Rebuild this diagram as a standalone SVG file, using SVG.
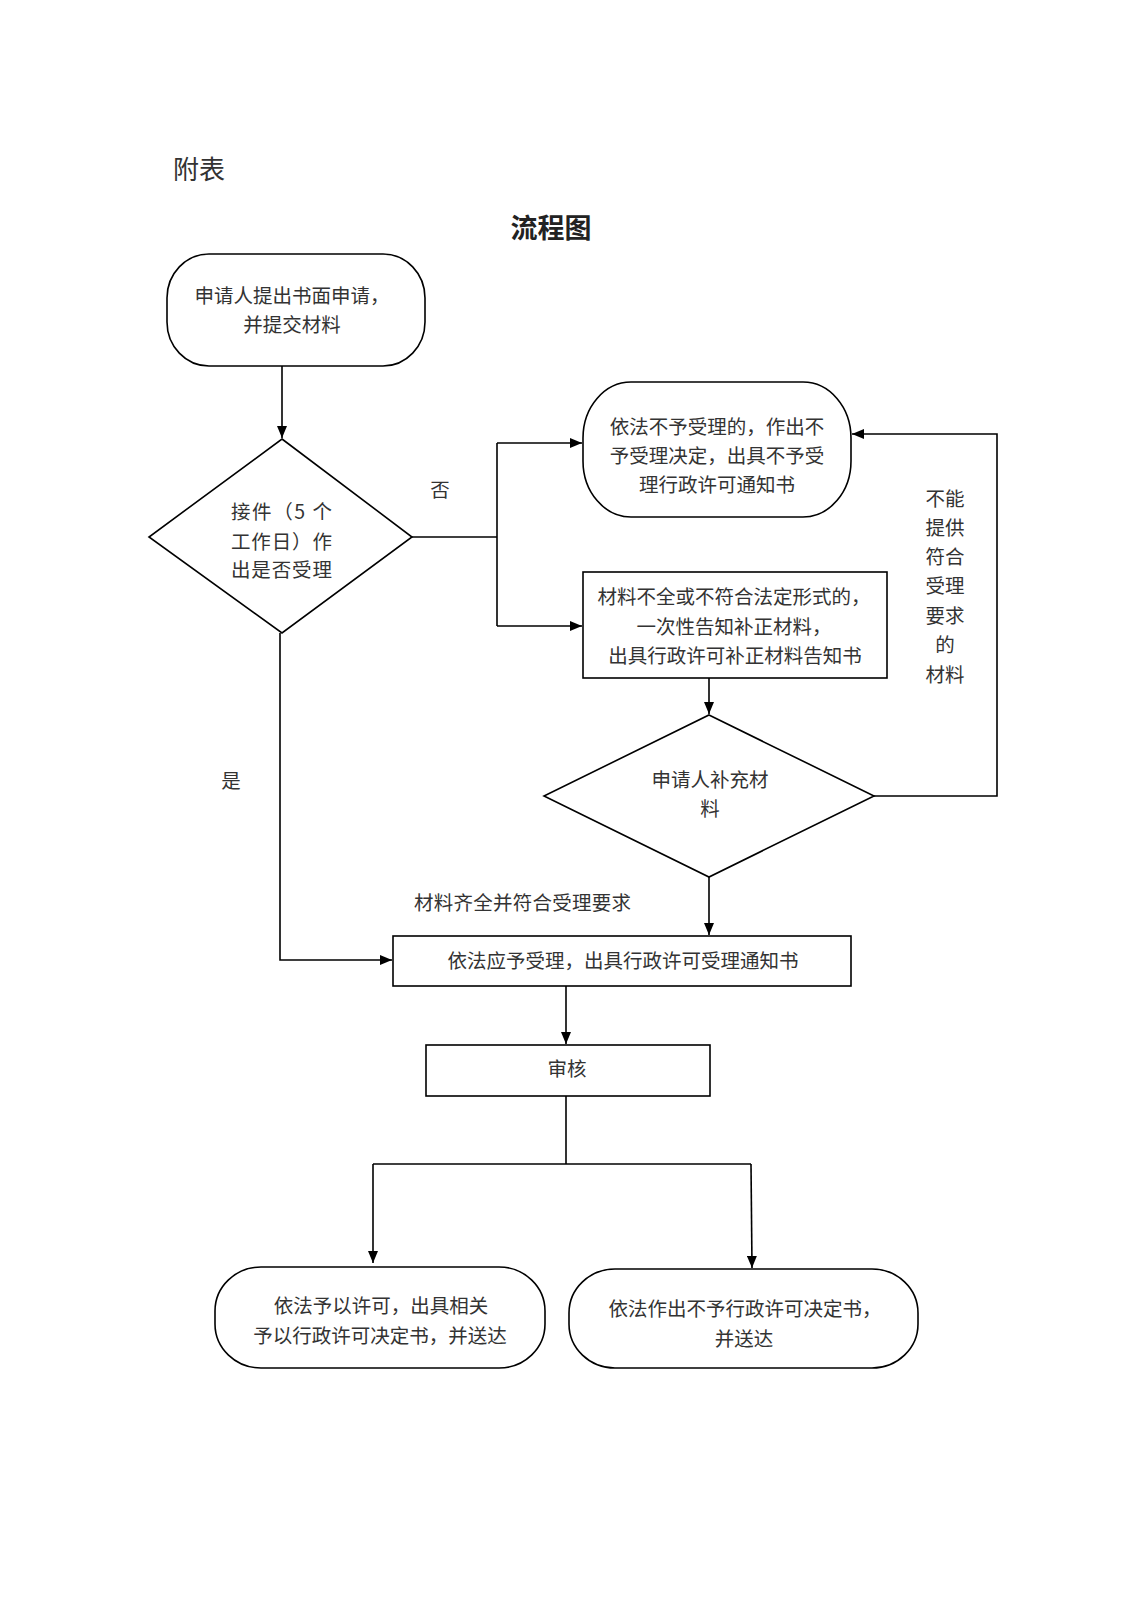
<svg xmlns="http://www.w3.org/2000/svg" width="1131" height="1600" viewBox="0 0 1131 1600">
<style>
  .shape{fill:#ffffff;stroke:#000000;stroke-width:1.6}
  .line{fill:none;stroke:#000000;stroke-width:1.6}
  text{font-family:"Noto Sans CJK SC","Noto Sans",sans-serif;fill:#333333;font-size:19.5px;dominant-baseline:central}
  .c{text-anchor:middle}
  .title{font-size:27px;font-weight:bold;fill:#222222}
  .head{font-size:26px;fill:#333333}
</style>
<defs>
  <marker id="arrow" markerUnits="userSpaceOnUse" markerWidth="12" markerHeight="10" refX="12" refY="5" orient="auto">
    <path d="M0,0 L12,5 L0,10 Z" fill="#000000"/>
  </marker>
</defs>
<rect width="1131" height="1600" fill="#ffffff"/>

<text class="head" x="173" y="167">附表</text>
<text class="title c" x="551" y="226">流程图</text>

<g id="connectors">
  <line class="line" x1="282" y1="366" x2="282" y2="438" marker-end="url(#arrow)"/>
  <polyline class="line" points="412,537 497,537"/>
  <polyline class="line" points="497,443 497,626"/>
  <line class="line" x1="497" y1="443" x2="582" y2="443" marker-end="url(#arrow)"/>
  <line class="line" x1="497" y1="626" x2="582" y2="626" marker-end="url(#arrow)"/>
  <line class="line" x1="709" y1="678" x2="709" y2="714" marker-end="url(#arrow)"/>
  <polyline class="line" points="874,796 997,796 997,434 852,434" marker-end="url(#arrow)"/>
  <line class="line" x1="709" y1="877" x2="709" y2="935" marker-end="url(#arrow)"/>
  <polyline class="line" points="280,633 280,960 392,960" marker-end="url(#arrow)"/>
  <line class="line" x1="566" y1="986" x2="566" y2="1044" marker-end="url(#arrow)"/>
  <polyline class="line" points="566,1096 566,1164"/>
  <polyline class="line" points="373,1164 751,1164"/>
  <line class="line" x1="373" y1="1164" x2="373" y2="1263" marker-end="url(#arrow)"/>
  <line class="line" x1="751" y1="1164" x2="752" y2="1268" marker-end="url(#arrow)"/>
  <text class="c" x="440" y="488">否</text>
  <text class="c" x="231" y="779">是</text>
  <text x="414" y="901" textLength="217" lengthAdjust="spacing">材料齐全并符合受理要求</text>
  <text class="c" x="945" y="497">不能</text>
  <text class="c" x="945" y="526">提供</text>
  <text class="c" x="945" y="555">符合</text>
  <text class="c" x="945" y="584">受理</text>
  <text class="c" x="945" y="614">要求</text>
  <text class="c" x="945" y="643">的</text>
  <text class="c" x="945" y="673">材料</text>
</g>

<g id="node-apply">
  <rect class="shape" x="167" y="254" width="258" height="112" rx="42" ry="44"/>
  <text class="c" x="292" y="294">申请人提出书面申请，</text>
  <text class="c" x="292" y="323">并提交材料</text>
</g>

<g id="node-accept-decision">
  <polygon class="shape" points="282,439 412,537 282,633 149,537"/>
  <text x="231" y="510" textLength="101" lengthAdjust="spacing">接件（5 个</text>
  <text x="231" y="540" textLength="101" lengthAdjust="spacing">工作日）作</text>
  <text x="231" y="568" textLength="101" lengthAdjust="spacing">出是否受理</text>
</g>

<g id="node-reject">
  <rect class="shape" x="583" y="382" width="268" height="135" rx="48" ry="56"/>
  <text class="c" x="717" y="425">依法不予受理的，作出不</text>
  <text class="c" x="717" y="454">予受理决定，出具不予受</text>
  <text class="c" x="717" y="483">理行政许可通知书</text>
</g>

<g id="node-supplement-notice">
  <rect class="shape" x="583" y="572" width="304" height="106"/>
  <text class="c" x="734" y="595">材料不全或不符合法定形式的，</text>
  <text class="c" x="734" y="625">一次性告知补正材料，</text>
  <text class="c" x="735" y="654">出具行政许可补正材料告知书</text>
</g>

<g id="node-supplement">
  <polygon class="shape" points="709,715 874,796 709,877 544,796"/>
  <text class="c" x="710" y="778">申请人补充材</text>
  <text class="c" x="710" y="807">料</text>
</g>

<g id="node-accepted">
  <rect class="shape" x="393" y="936" width="458" height="50"/>
  <text class="c" x="623" y="959">依法应予受理，出具行政许可受理通知书</text>
</g>

<g id="node-review">
  <rect class="shape" x="426" y="1045" width="284" height="51"/>
  <text class="c" x="567" y="1067">审核</text>
</g>

<g id="node-permit">
  <rect class="shape" x="215" y="1267" width="330" height="101" rx="46" ry="44"/>
  <text class="c" x="381" y="1304">依法予以许可，出具相关</text>
  <text class="c" x="380" y="1334">予以行政许可决定书，并送达</text>
</g>

<g id="node-deny">
  <rect class="shape" x="569" y="1269" width="349" height="99" rx="46" ry="44"/>
  <text class="c" x="745" y="1307">依法作出不予行政许可决定书，</text>
  <text class="c" x="744" y="1337">并送达</text>
</g>
</svg>
